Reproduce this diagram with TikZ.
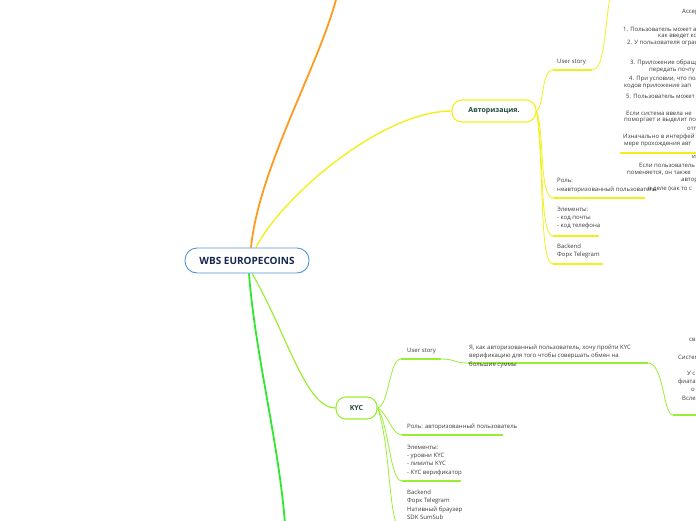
\documentclass[tikz,border=0pt]{standalone}
\usepackage{fontspec}
\setmainfont{Open Sans}
\usetikzlibrary{positioning,backgrounds}
\definecolor{ink}{HTML}{3A3A3A}
\definecolor{title}{HTML}{1E4A3A}
\definecolor{rootink}{HTML}{16284F}
\definecolor{rootline}{HTML}{4F94D8}
\definecolor{orangeb}{HTML}{FF9A1F}
\definecolor{yellowb}{HTML}{F2F01C}
\definecolor{limeb}{HTML}{99EE33}
\definecolor{greenb}{HTML}{2EE82E}

\begin{document}
\begin{tikzpicture}[x=1pt, y=-1pt,
    note/.style={font=\fontsize{6}{8.4}\selectfont, text=ink, inner sep=0pt, align=left, anchor=north west},
    edge/.style={line width=0.8pt},
    under/.style={line width=1.6pt},
    root/.style={draw=rootline, line width=0.9pt, rounded corners=12pt, fill=white, minimum width=124pt, minimum height=25pt, text=rootink, font=\fontsize{10}{12}\selectfont\bfseries},
    topic/.style={line width=1.1pt, rounded corners=10pt, fill=white, minimum height=22pt, text=title, font=\fontsize{7}{9}\selectfont\bfseries},
  ]
\useasboundingbox (0,0) rectangle (696,520);
\clip (0,0) rectangle (696,520);

% --- Central topic and the two open ones ---------------------------------------
\node[root] (root) at (247,260.5) {WBS EUROPECOINS};
\node[topic, draw=yellowb, minimum width=84pt] (auth) at (494,111) {Авторизация.};
\node[topic, draw=limeb, minimum width=41pt] (kyc) at (356.5,408) {KYC};

\coordinate (topEnd) at (337,-4);
\coordinate (botEnd) at (285,524);

% --- Авторизация: its leaves ---------------------------------------------------
\node[note] (auStory) at (557,59.5) {User story};
\node[note] (auRole) at (557,178.5) {Роль:\\неавторизованный пользователь};
\node[note] (auElem) at (557,206.5) {Элементы:\\- код почты\\- код телефона};
\node[note] (auBack) at (557,243.5) {Backend\\Форк Telegram};

\coordinate (auStoryA) at (553,70);  \coordinate (auStoryB) at (592,70);
\coordinate (auRoleA) at (553,198);  \coordinate (auRoleB) at (645,198);
\coordinate (auElemA) at (553,236);  \coordinate (auElemB) at (599,236);
\coordinate (auBackA) at (553,264);  \coordinate (auBackB) at (603,264);
\coordinate (acTop) at (610,-4);
\coordinate (acA) at (620,153);      \coordinate (acB) at (700,153);

% the long criteria text, cut by the page edge
\foreach \i/\x/\y/\t in {1/682/12/Accep, 2/623/29/{1. Пользователь может а}, 3/658/36/как введет ко,
                         4/627/43.5/{2. У пользователя огран}, 5/630/63/{3. Приложение обращ}, 6/649/71/передать почту,
                         7/629/79/{4. При условии, что пол}, 8/624/87/кодов приложение зап, 9/626/96/{5. Пользователь может},
                         10/626/113/Если система ввела не, 11/624/121/поморгает и выделит по, 12/687/129/отп,
                         13/623/137/Изначально в интерфей, 14/624/145/мере прохождения авт, 15/692/157/и,
                         16/639/165/Если пользователь, 17/627/173/{поменяется, он также}, 18/681/181/автор,
                         19/648/189/{в деле (как то с}} {
  \node[note, anchor=west] (ac\i) at (\x,\y) {\t};
}

% --- KYC: its leaves -----------------------------------------------------------
\node[note] (kyStory) at (407,348.5) {User story};
\node[note] (kyWish) at (469,344.5) {Я, как авторизованный пользователь, хочу пройти KYC\\верификацию для того чтобы совершать обмен на\\большие суммы};
\node[note] (kyRole) at (407,423.5) {Роль: авторизованный пользователь};
\node[note] (kyElem) at (407,444.5) {Элементы:\\- уровни KYC\\- лимиты KYC\\- KYC верификатор};
\node[note] (kyBack) at (407,489.5) {Backend\\Форк Telegram\\Нативный браузер\\SDK SumSub};

\coordinate (kyStoryA) at (401,359); \coordinate (kyStoryB) at (441,359);
\coordinate (kyWishA) at (468,363);  \coordinate (kyWishB) at (648,363);
\coordinate (kyNextA) at (673,415);  \coordinate (kyNextB) at (700,415);
\coordinate (kyRoleA) at (402,435);  \coordinate (kyRoleB) at (503,435);
\coordinate (kyElemA) at (402,481);  \coordinate (kyElemB) at (461,481);
\coordinate (kyBackA) at (402,530);

\foreach \i/\x/\y/\t in {1/689/340/св, 2/678/357/Систем, 3/687/373/У с, 4/678/382/фиата, 5/691/390/о, 6/682/398/Всле} {
  \node[note, anchor=west] (ky\i) at (\x,\y) {\t};
}

% --- Branches ------------------------------------------------------------------
\begin{scope}[on background layer]
\draw[orangeb, line width=1.8pt] ([xshift=4pt]root.north) .. controls +(8,-80) and +(-18,70) .. (topEnd);
\draw[yellowb, line width=1.4pt] ([xshift=9pt]root.north) .. controls +(25,-50) and +(-70,0) .. (auth.west);
\draw[greenb, line width=1.8pt] ([xshift=2pt]root.south) .. controls +(6,80) and +(-6,-80) .. (botEnd);
\draw[limeb, line width=1.2pt] ([xshift=5pt]root.south) .. controls +(35,60) and +(-30,0) .. (kyc.west);

\draw[yellowb, edge] (auth.east) .. controls +(8,-6) and +(-12,0) .. (auStoryA);
\draw[yellowb, edge] (auth.east) .. controls +(8,20) and +(-14,0) .. (auRoleA);
\draw[yellowb, edge] (auth.east) .. controls +(8,40) and +(-14,0) .. (auElemA);
\draw[yellowb, edge] (auth.east) .. controls +(8,60) and +(-14,0) .. (auBackA);
\draw[yellowb, edge] (auStoryB) .. controls +(12,0) and +(-6,40) .. (acTop);
\foreach \n in {auStory, auRole, auElem, auBack, ac} {
  \draw[yellowb, under] (\n A) -- (\n B);
}

\draw[limeb, edge] (kyc.east) .. controls +(12,-3) and +(-12,0) .. (kyStoryA);
\draw[limeb, edge] (kyc.east) .. controls +(10,5) and +(-10,0) .. (kyRoleA);
\draw[limeb, edge] (kyc.east) .. controls +(12,20) and +(-12,0) .. (kyElemA);
\draw[limeb, edge] (kyc.east) .. controls +(14,40) and +(-14,0) .. (kyBackA);
\draw[limeb, edge] (kyStoryB) .. controls +(14,0) and +(-14,0) .. (kyWishA);
\draw[limeb, edge] (kyWishB) .. controls +(16,0) and +(-10,0) .. (kyNextA);
\foreach \n in {kyStory, kyWish, kyNext, kyRole, kyElem} {
  \draw[limeb, under] (\n A) -- (\n B);
}
\end{scope}

\end{tikzpicture}
\end{document}
